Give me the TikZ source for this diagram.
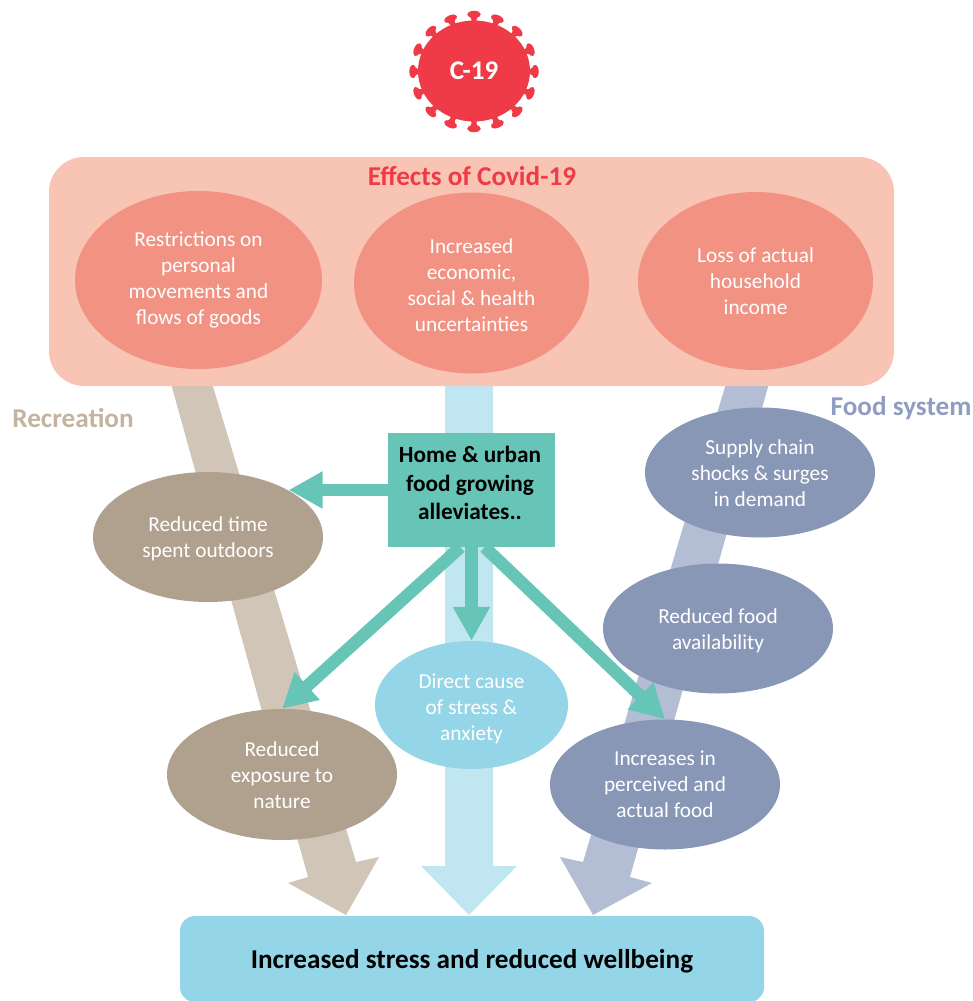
\documentclass[tikz,border=0pt]{standalone}
\usepackage{fontspec}
\setmainfont{Carlito}
\usetikzlibrary{shapes.geometric,arrows.meta}

\definecolor{covidred}{HTML}{EF3B47}
\definecolor{effectbg}{HTML}{F8C4B4}
\definecolor{effectfill}{HTML}{F29283}
\definecolor{recfill}{HTML}{B0A08E}
\definecolor{recarrow}{HTML}{D0C5B6}
\definecolor{reclabel}{HTML}{C4B3A0}
\definecolor{foodfill}{HTML}{8997B7}
\definecolor{foodarrow}{HTML}{B3BDD4}
\definecolor{foodlabel}{HTML}{8F9DC0}
\definecolor{stressfill}{HTML}{94D6E7}
\definecolor{stressarrow}{HTML}{C0E7F1}
\definecolor{growfill}{HTML}{66C5B6}

\newcommand{\dropby}[1]{\rule{0pt}{#1}}

\tikzset{
  bubble/.style={ellipse,inner sep=0pt,text=white,align=center,minimum width=230pt,minimum height=130pt,
    font=\fontsize{21.3}{26}\selectfont},
  effect/.style={bubble,fill=effectfill},
  rec/.style={bubble,fill=recfill},
  food/.style={bubble,fill=foodfill},
  heading/.style={font=\fontsize{27.2}{30}\selectfont\bfseries},
  grows/.style={line width=12.5pt,color=growfill,-{Triangle[length=34pt,width=35pt]}},
}

\begin{document}
\begin{tikzpicture}[x=1pt,y=-1pt]
    \useasboundingbox (0,0) rectangle (973,1001);

    % virus
    \foreach \a in {0,22.5,...,337.5}
    \fill[covidred,rounded corners=1.5pt,shift={(474,71.5)},shift={(\a:54 and 50)},rotate=-\a] (-3,-3) -- (4,-2.5)
    -- (5.5,-7) -- (9.5,-6) -- (11,0) -- (9.5,6) -- (5.5,7) -- (4,2.5) -- (-3,3) -- cycle;
    \node[ellipse,fill=covidred,text=white,inner sep=0pt,minimum width=112pt,minimum height=101pt,
    font=\fontsize{27}{30}\selectfont\bfseries] (covid) at (474,71) {C-19};

    % wide arrows
    \fill[recarrow] (170,380) -- (211,380) -- (356,862) -- (379,857) -- (346,915)
    -- (288,883) -- (308,877) -- cycle;
    \fill[stressarrow] (445,380) -- (493,380) -- (493,866) -- (517,866) -- (469,915)
    -- (421,866) -- (445,866) -- cycle;
    \fill[foodarrow] (727,380) -- (770,380) -- (630,877) -- (652,883) -- (593,915)
    -- (560,857) -- (583,862) -- cycle;

    \node[rectangle,rounded corners=35pt,fill=effectbg,minimum width=845pt,minimum height=229pt] (effects) at (471.5,271.5) {};
    \node[heading,text=covidred] (effectstitle) at (472,176) {Effects of Covid-19};

    \node[effect,minimum width=247pt,minimum height=178pt] (restrict) at (198.5,280) {Restrictions on\\personal\\movements and\\flows of goods};
    \node[effect,minimum width=235pt,minimum height=181pt] (uncertain) at (471.5,283) {\dropby{19pt}Increased\\economic,\\social \& health\\uncertainties};
    \node[effect,minimum width=235pt,minimum height=178pt] (income) at (755.5,281) {Loss of actual\\household\\income};

    \node[heading,text=reclabel] (reclabel) at (73,418) {Recreation};
    \node[heading,text=foodlabel] (foodlabel) at (901,408) {Food system};

    \node[rec] (timeout) at (208,537) {\dropby{19pt}Reduced time\\spent outdoors};
    \node[rec,minimum height=131pt] (exposure) at (282,774.5) {\dropby{17pt}Reduced\\exposure to\\nature};

    \node[food] (supply) at (760,472.5) {\dropby{17pt}Supply chain\\shocks \& surges\\in demand};
    \node[food] (avail) at (718,628.5) {\dropby{19pt}Reduced food\\availability};
    \node[food] (actual) at (665,784.5) {Increases in\\perceived and\\actual food};

    \node[bubble,fill=stressfill,minimum width=193pt,minimum height=128pt] (anxiety) at (471.5,705) {\dropby{23pt}Direct cause\\of stress \&\\anxiety};

    \node[rectangle,rounded corners=15pt,fill=stressfill,minimum width=584pt,minimum height=86pt] (wellbeing) at (472,959) {};
    \node[heading,text=black] (wellbeingtext) at (472,961) {Increased stress and reduced wellbeing};

    \node[rectangle,fill=growfill,minimum width=167pt,minimum height=114pt] (homegrow) at (471.5,490) {};
    \node[align=center,font=\fontsize{23.3}{28.5}\selectfont\bfseries] (growtext) at (470,483) {Home \& urban\\food growing\\alleviates..};

    \draw[grows] (homegrow.west) -- (timeout.30 |- homegrow.west);
    \draw[grows] (homegrow.south) -- (anxiety.north);
    \draw[grows] (homegrow.-101) -- (exposure.north);
    \draw[grows] (homegrow.-77) -- (actual.north);

\end{tikzpicture}
\end{document}
